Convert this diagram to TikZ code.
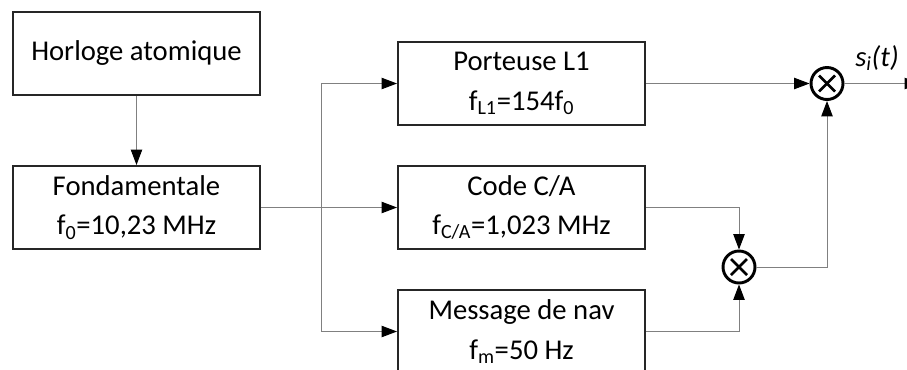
\documentclass[tikz,border=0pt]{standalone}
\usepackage{fontspec}
\setmainfont{Carlito}
\usetikzlibrary{arrows.meta, positioning}

\begin{document}
\begin{tikzpicture}[x=0.75pt, y=-0.75pt]
    \tikzset{
        block/.style={
                draw=black!85, line width=1.5pt, fill=white,
                minimum width=185.25pt, minimum height=62.25pt,
                align=center, font=\fontsize{21.5}{29.5}\selectfont
            },
        mixer/.style={
                circle, draw=black, line width=2.2pt, minimum size=24pt, inner sep=0pt,
                path picture={
                        \draw[line width=2pt] (path picture bounding box.center) ++(-8,-8) -- ++(16,16);
                        \draw[line width=2pt] (path picture bounding box.center) ++(-8,8) -- ++(16,-16);
                    }
            },
        link/.style={draw=black!50, line width=0.75pt},
        tip/.style={-{Triangle[length=11.5pt, width=8.5pt, color=black]}}
    }
    \useasboundingbox (0,0) rectangle (907,369);

    % blocs de gauche
    \node[block] (horloge) at (136.5, 53.5) {Horloge atomique};
    \node[block] (fond) at (136.5, 207.5) {Fondamentale\\f\textsubscript{0}=10,23 MHz};

    % blocs du milieu
    \node[block] (porteuse) at (521.5, 83.5) {Porteuse L1\\f\textsubscript{L1}=154f\textsubscript{0}};
    \node[block] (code) at (521.5, 207.5) {Code C/A\\f\textsubscript{C/A}=1,023 MHz};
    \node[block] (message) at (521.5, 331.5) {Message de nav\\f\textsubscript{m}=50 Hz};

    % multiplieurs
    \node[mixer] (mixtop) at (827, 83.5) {};
    \node[mixer] (mixbot) at (739, 267) {};

    \coordinate (branch) at (321, 0);
    \coordinate (out) at (920, 83.5);

    \draw[link, tip] (horloge) -- (fond);
    \draw[link, tip] (fond.east) -- (code.west);
    \draw[link, tip] (fond.east -| branch) |- (porteuse.west);
    \draw[link, tip] (fond.east -| branch) |- (message.west);

    \draw[link, tip] (porteuse.east) -- (mixtop.west);
    \draw[link, tip] (code.east) -| (mixbot.north);
    \draw[link, tip] (message.east) -| (mixbot.south);
    \draw[link, tip] (mixbot.east) -| (mixtop.south);
    \draw[link, tip] (mixtop.east) -- (out);

    \node[font=\fontsize{21.5}{25}\selectfont] (signal) at (877, 58) {\textit{s\textsubscript{i}(t)}};
\end{tikzpicture}
\end{document}
